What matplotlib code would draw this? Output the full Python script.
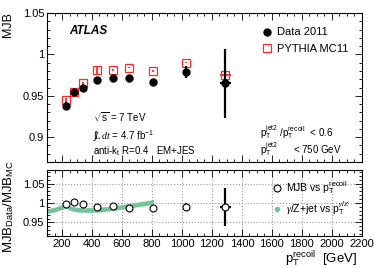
import matplotlib
matplotlib.use("Agg")
import matplotlib.pyplot as plt
import numpy as np
from matplotlib.ticker import MultipleLocator
from matplotlib.lines import Line2D

plt.rcParams['font.family'] = ['Liberation Sans', 'DejaVu Sans']
plt.rcParams['mathtext.fontset'] = 'custom'
plt.rcParams['mathtext.rm'] = 'Liberation Sans'
plt.rcParams['mathtext.it'] = 'Liberation Serif:italic'
plt.rcParams['mathtext.bf'] = 'Liberation Sans:bold'

# ---- data ----
pt = [228, 280, 340, 435, 540, 650, 810, 1030, 1290]
pt_xerr = [0, 0, 0, 0, 0, 0, 0, 0, 35]
mjb_data = [0.938, 0.954, 0.959, 0.969, 0.972, 0.971, 0.967, 0.979, 0.965]
mjb_data_err = [0.004, 0.003, 0.002, 0.002, 0.002, 0.002, 0.002, 0.007, 0.042]
mjb_mc = [0.945, 0.9545, 0.965, 0.981, 0.981, 0.984, 0.980, 0.990, 0.975]
mjb_mc_err = [0.002, 0.002, 0.002, 0.005, 0.001, 0.001, 0.001, 0.001, 0.005]
ratio = [0.997, 1.003, 0.997, 0.989, 0.991, 0.988, 0.988, 0.990, 0.990]
ratio_err = [0.002, 0.002, 0.002, 0.002, 0.002, 0.002, 0.002, 0.010, 0.049]

gz_pt = [100, 150, 200, 230, 260, 300, 350, 400, 450, 500, 550, 600, 650, 700, 750, 810]
gz_val = [0.979, 0.983, 0.990, 0.992, 0.986, 0.983, 0.982, 0.982, 0.983, 0.985,
          0.987, 0.990, 0.993, 0.996, 0.999, 1.003]
gz_halfwidth = 0.006

fig = plt.figure(figsize=(3.74, 2.68), dpi=100)
ax1 = fig.add_axes([0.1257, 0.3955, 0.842, 0.556])
ax2 = fig.add_axes([0.1257, 0.1194, 0.842, 0.2463])

red = '#ff2a2a'
green = '#73c49b'
for ax in (ax1, ax2):
    ax.set_xlim(100, 2200)
    ax.xaxis.set_major_locator(MultipleLocator(200))
    ax.xaxis.set_minor_locator(MultipleLocator(50))
    ax.tick_params(which='both', direction='in', top=True, right=True, labelsize=8,
                   width=0.6, pad=2)
    ax.tick_params(which='major', length=5)
    ax.tick_params(which='minor', length=2.5)
    for s in ax.spines.values():
        s.set_linewidth(0.8)

# top panel
ax1.set_ylim(0.87, 1.05)
ax1.yaxis.set_minor_locator(MultipleLocator(0.01))
ax1.set_yticks([0.9, 0.95, 1.0, 1.05])
ax1.set_yticklabels(['0.9', '0.95', '1', '1.05'])
ax1.tick_params(labelbottom=False)

ax1.errorbar(pt, mjb_mc, yerr=mjb_mc_err, xerr=pt_xerr, fmt='s', mfc='none', mec=red,
             ecolor=red, ms=6, mew=0.9, elinewidth=1.3, capsize=0, zorder=3)
ax1.errorbar(pt, mjb_data, yerr=mjb_data_err, xerr=pt_xerr, fmt='o', color='black',
             ms=5, elinewidth=1.6, capsize=0, zorder=4)
ax1.set_ylabel('MJB', fontsize=9, labelpad=4)
ax1.yaxis.set_label_coords(-0.105, 0.92)

h1 = [Line2D([], [], marker='o', ls='none', color='black', ms=5),
      Line2D([], [], marker='s', ls='none', mfc='none', mec=red, ms=6, mew=0.9)]
ax1.legend(h1, ['Data 2011', 'PYTHIA MC11'], loc='upper right',
           bbox_to_anchor=(0.99, 0.97), frameon=False,
           fontsize=8, handletextpad=0.3, labelspacing=0.6, handlelength=1.2)

ax1.text(0.07, 0.86, 'ATLAS', transform=ax1.transAxes, fontsize=8.5,
         fontweight='bold', fontstyle='italic')
ax1.text(0.145, 0.27, r'$\sqrt{\rm s}$ = 7 TeV', transform=ax1.transAxes, fontsize=7)
ax1.text(0.145, 0.15, r'$\int\! L\, dt$ = 4.7 fb$^{-1}$', transform=ax1.transAxes, fontsize=7)
ax1.text(0.145, 0.05, r'anti-k$_{\rm t}$ R=0.4   EM+JES', transform=ax1.transAxes, fontsize=7)
ax1.text(0.675, 0.17, r'p$_{\rm T}^{\rm jet2}$ /p$_{\rm T}^{\rm recoil}$  < 0.6',
         transform=ax1.transAxes, fontsize=7)
ax1.text(0.675, 0.06, r'p$_{\rm T}^{\rm jet2}$      < 750 GeV',
         transform=ax1.transAxes, fontsize=7)

# bottom panel
ax2.set_ylim(0.915, 1.085)
ax2.set_yticks([0.95, 1.0, 1.05])
ax2.set_yticklabels(['0.95', '1', '1.05'])
ax2.yaxis.set_minor_locator(MultipleLocator(0.01))
ax2.grid(True, which='major', linestyle=':', color='#999999', linewidth=0.8)
gz = np.array(gz_val)
ax2.fill_between(gz_pt, gz - gz_halfwidth, gz + gz_halfwidth, color=green,
                 linewidth=0, zorder=2)
ax2.errorbar(pt, ratio, yerr=ratio_err, xerr=pt_xerr, fmt='o', mfc='white', mec='black',
             ecolor='black', ms=5, mew=0.8, elinewidth=1.6, capsize=0, zorder=4)

lh = [Line2D([], [], marker='o', ls='none', mfc='white', mec='black', ms=5, mew=0.8),
      Line2D([], [], marker='o', ls='none', color=green, ms=3)]
ax2.legend(lh, [r'MJB vs p$_{\rm T}^{\rm recoil}$', r'$\gamma$/Z+jet vs p$_{\rm T}^{\gamma/Z}$'],
           loc='upper right', bbox_to_anchor=(0.99, 1.0), frameon=False, fontsize=7.5,
           handletextpad=0.3, labelspacing=0.3, handlelength=1.2)

ax2.set_ylabel(r'MJB$_{\rm Data}$/MJB$_{\rm MC}$', fontsize=9.5)
ax2.yaxis.set_label_coords(-0.1, 0.45)
ax2.set_xlabel(r'p$_{\rm T}^{\rm recoil}$  [GeV]', fontsize=9.5, labelpad=0)
ax2.xaxis.set_label_coords(0.87, -0.2)

fig.savefig('out.png', dpi=100)
